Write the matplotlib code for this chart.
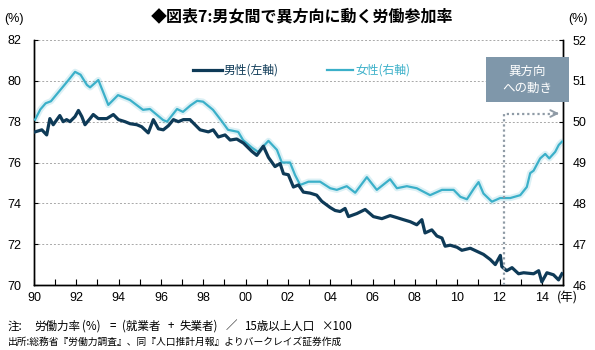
import matplotlib
matplotlib.use("Agg")
import matplotlib.pyplot as plt
from matplotlib.lines import Line2D
from matplotlib.patches import Rectangle

plt.rcParams['font.family'] = ['Liberation Sans', 'Noto Sans CJK JP', 'DejaVu Sans']

# ---- data ----
male_years = [1990.05, 1990.37, 1990.6, 1990.75, 1990.91, 1991.22, 1991.38, 1991.54, 1991.70, 1991.94,
              1992.1, 1992.26, 1992.41, 1992.65, 1992.8, 1993.04, 1993.44, 1993.75, 1993.99, 1994.3,
              1994.54, 1994.86, 1995.09, 1995.4, 1995.64, 1995.88, 1996.11, 1996.35, 1996.59, 1996.82,
              1997.06, 1997.37, 1997.61, 1997.85, 1998.24, 1998.47, 1998.71, 1999.03, 1999.27, 1999.58,
              1999.9, 2000.29, 2000.53, 2000.84, 2001.08, 2001.39, 2001.63, 2001.79, 2002.02, 2002.26,
              2002.5, 2002.73, 2003.05, 2003.36, 2003.6, 2003.99, 2004.23, 2004.47, 2004.7, 2004.86,
              2005.26, 2005.65, 2006.04, 2006.44, 2006.83, 2007.15, 2007.46, 2007.78, 2008.09, 2008.33,
              2008.48, 2008.8, 2009.04, 2009.28, 2009.43, 2009.67, 2009.99, 2010.22, 2010.62, 2010.93,
              2011.24, 2011.56, 2011.8, 2012.04, 2012.11, 2012.34, 2012.59, 2012.9, 2013.14, 2013.61,
              2013.85, 2014.0, 2014.24, 2014.55, 2014.79, 2014.95]
male_rate = [77.5, 77.6, 77.35, 78.15, 77.85, 78.3, 78.0, 78.1, 78.0, 78.25,
             78.55, 78.25, 77.85, 78.15, 78.35, 78.15, 78.15, 78.35, 78.1, 78.0,
             77.9, 77.85, 77.75, 77.45, 78.1, 77.65, 77.6, 77.8, 78.1, 78.0,
             78.1, 78.1, 77.85, 77.6, 77.5, 77.6, 77.25, 77.35, 77.1, 77.15,
             76.95, 76.55, 76.35, 76.8, 76.25, 75.8, 75.95, 75.45, 75.4, 74.8,
             74.9, 74.55, 74.5, 74.4, 74.1, 73.8, 73.65, 73.6, 73.75, 73.35,
             73.5, 73.7, 73.35, 73.25, 73.4, 73.3, 73.2, 73.1, 72.95, 73.2,
             72.55, 72.7, 72.4, 72.3, 71.9, 71.95, 71.85, 71.7, 71.8, 71.65,
             71.5, 71.25, 71.0, 71.45, 70.9, 70.7, 70.85, 70.55, 70.6, 70.55,
             70.7, 70.15, 70.6, 70.5, 70.25, 70.55]

female_years = [1990.05, 1990.3, 1990.55, 1990.8, 1991.2, 1991.6, 1991.94, 1992.2, 1992.5, 1992.65,
                1993.04, 1993.25, 1993.51, 1993.97, 1994.54, 1995.15, 1995.48, 1996.1, 1996.29, 1996.76,
                1997.04, 1997.4, 1997.71, 1997.99, 1998.46, 1998.89, 1999.17, 1999.65, 1999.88, 2000.31,
                2000.59, 2001.08, 2001.48, 2001.71, 2002.10, 2002.34, 2002.58, 2002.97, 2003.52, 2004.0,
                2004.31, 2004.78, 2005.18, 2005.73, 2006.2, 2006.83, 2007.15, 2007.62, 2008.09, 2008.72,
                2009.28, 2009.83, 2010.15, 2010.46, 2010.8, 2011.01, 2011.24, 2011.64, 2012.03, 2012.51,
                2012.98, 2013.29, 2013.45, 2013.61, 2013.92, 2014.16, 2014.35, 2014.63, 2014.8, 2014.95]
female_rate = [50.05, 50.3, 50.45, 50.5, 50.75, 51.0, 51.22, 51.15, 50.9, 50.84,
               51.02, 50.75, 50.41, 50.65, 50.53, 50.29, 50.31, 50.04, 50.0, 50.31,
               50.24, 50.4, 50.51, 50.49, 50.29, 50.0, 49.8, 49.75, 49.55, 49.36,
               49.26, 49.53, 49.31, 49.0, 49.0, 48.69, 48.45, 48.53, 48.53, 48.37,
               48.33, 48.42, 48.26, 48.64, 48.33, 48.59, 48.37, 48.42, 48.37, 48.2,
               48.33, 48.33, 48.16, 48.1, 48.37, 48.52, 48.24, 48.04, 48.13, 48.13,
               48.2, 48.4, 48.74, 48.8, 49.1, 49.21, 49.1, 49.26, 49.43, 49.51]

x_tick_years = list(range(1990, 2015, 2))
x_tick_labels = ['90', '92', '94', '96', '98', '00', '02', '04', '06', '08', '10', '12', '14']
left_ticks = [70, 72, 74, 76, 78, 80, 82]
right_ticks = [46, 47, 48, 49, 50, 51, 52]
marker_year = 2012.2      # start of the "opposite direction" period
marker_level = 50.2       # right-axis level of the dotted arrow

title = '◆図表7:男女間で異方向に動く労働参加率'
male_label = '男性(左軸)'
female_label = '女性(右軸)'
box_text = '異方向\nへの動き'
note1_parts = ['注:', '労働力率', '(%)', '=', '(就業者', '+', '失業者)', '／', '15歳以上人口', '×100']
note2 = '出所:総務省『労働力調査』、同『人口推計月報』よりバークレイズ証券作成'

# ---- style ----
MALE_C = '#0e3a57'
FEMALE_C = '#3bb0c9'
GRID_C = '#a8a8a8'
BOX_C = '#7f97aa'
ARROW_C = '#8f9ba6'
CJK = ['Noto Sans CJK JP', 'DejaVu Sans']

W, H = 595, 350
fig = plt.figure(figsize=(W / 100, H / 100), dpi=100)
L, R, T, B = 34, 563, 40, 285
ax = fig.add_axes([L / W, 1 - B / H, (R - L) / W, (B - T) / H])
ax2 = ax.twinx()

ax.set_xlim(1990, 2015)
ax.set_ylim(70, 82)
ax2.set_ylim(46, 52)

for a in (ax, ax2):
    a.spines['top'].set_visible(False)
    for s in ('left', 'right', 'bottom'):
        a.spines[s].set_linewidth(1.0)
        a.spines[s].set_color('black')

ax.set_yticks(left_ticks)
ax.set_yticklabels([str(v) for v in left_ticks])
ax2.set_yticks(right_ticks)
ax2.set_yticklabels([str(v) for v in right_ticks])
ax.set_xticks(x_tick_years)
ax.set_xticklabels(x_tick_labels)
ax.set_xticks(range(1990, 2016), minor=True)

ax.tick_params(axis='x', which='both', direction='in', length=4, width=0.8, labelsize=9, pad=5)
ax.tick_params(axis='y', direction='in', length=3, width=0.8, labelsize=9, pad=9)
ax2.tick_params(axis='y', direction='in', length=3, width=0.8, labelsize=9, pad=7)

for v in left_ticks[1:]:
    ax.axhline(v, color=GRID_C, lw=0.7, ls=(0, (2, 2)), zorder=0)

# female (right axis) with glow
ax2.plot(female_years, female_rate, color=FEMALE_C, lw=4.5, alpha=0.18, solid_capstyle='round', zorder=2)
ax2.plot(female_years, female_rate, color=FEMALE_C, lw=1.6, zorder=3)
# male (left axis), drawn on top
ax2.plot(male_years, male_rate, color=MALE_C, lw=2.3, zorder=4, transform=ax.transData)

# dotted marker line and arrow
ax2.plot([marker_year, marker_year, 2014.6], [46, marker_level, marker_level],
         color=ARROW_C, lw=1.6, ls=(0, (1, 1.3)), zorder=5)
ax2.annotate('', xy=(2014.95, marker_level), xytext=(2014.5, marker_level),
             arrowprops=dict(arrowstyle='->', color=ARROW_C, lw=1.4,
                             mutation_scale=12), zorder=5)

# box
fig.add_artist(Rectangle((486 / W, 1 - 102 / H), 83 / W, 45 / H, transform=fig.transFigure,
                         facecolor=BOX_C, edgecolor='none', zorder=6))
fig.text(527.5 / W, 1 - 80 / H, box_text, ha='center', va='center', color='white',
         fontsize=9, family=CJK, linespacing=1.35, zorder=7)

# title & axis units
fig.text(302 / W, 1 - 16 / H, title, ha='center', va='center', fontsize=11.5,
         fontweight='bold', family=CJK)
fig.text(14 / W, 1 - 19 / H, '(%)', ha='center', va='center', fontsize=9)
fig.text(578 / W, 1 - 19 / H, '(%)', ha='center', va='center', fontsize=9)
fig.text(567 / W, 1 - 298 / H, '(年)', ha='center', va='center', fontsize=9, family=CJK)

# legend
fig.add_artist(Line2D([193 / W, 222 / W], [1 - 70 / H] * 2, transform=fig.transFigure,
                      color=MALE_C, lw=2.3))
fig.text(224 / W, 1 - 70 / H, male_label, ha='left', va='center', fontsize=8.5,
         family=CJK, color=MALE_C)
fig.add_artist(Line2D([327 / W, 353 / W], [1 - 70 / H] * 2, transform=fig.transFigure,
                      color=FEMALE_C, lw=1.6))
fig.text(355 / W, 1 - 70 / H, female_label, ha='left', va='center', fontsize=8.5,
         family=CJK, color=FEMALE_C)

# notes
note1_x = [8, 34, 82, 110, 122, 168, 180, 226, 244, 322]
for px, part in zip(note1_x, note1_parts):
    fig.text(px / W, 1 - 326 / H, part, ha='left', va='center', fontsize=8.3, family=CJK)
fig.text(8 / W, 1 - 342 / H, note2, ha='left', va='center', fontsize=7, family=CJK)

fig.savefig('out.png', dpi=100)
